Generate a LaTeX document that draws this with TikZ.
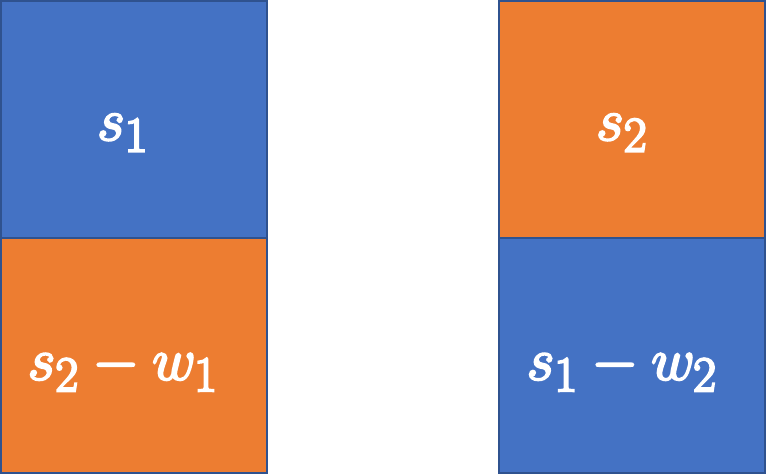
\documentclass[tikz,border=0pt]{standalone}
\usepackage{amsmath}
\definecolor{cblue}{HTML}{4472C4}
\definecolor{corange}{HTML}{ED7D31}
\definecolor{cedge}{HTML}{2F528F}
\newcommand{\heavytext}[1]{\special{pdf:literal 2 Tr 0.9 w}#1\special{pdf:literal 0 Tr}}
\begin{document}
\begin{tikzpicture}[x=1pt,y=-1pt,
  cell/.style={draw=cedge,line width=1.5pt},
  lbl/.style={text=white,inner sep=0pt,font=\Huge,scale=2.4,transform shape}]
\useasboundingbox (0,0) rectangle (766,474);
\path[cell,fill=cblue] (1,1) rectangle (267,238);
\node[lbl] (a) at (123,133) {\heavytext{$s_1$}};
\path[cell,fill=corange] (1,238) rectangle (267,473);
\node[lbl] (b) at (123,368) {\heavytext{$s_2-w_1$}};
\path[cell,fill=corange] (499,1) rectangle (765,238);
\node[lbl] (c) at (622,133) {\heavytext{$s_2$}};
\path[cell,fill=cblue] (499,238) rectangle (765,473);
\node[lbl] (d) at (622,368) {\heavytext{$s_1-w_2$}};
\end{tikzpicture}
\end{document}
